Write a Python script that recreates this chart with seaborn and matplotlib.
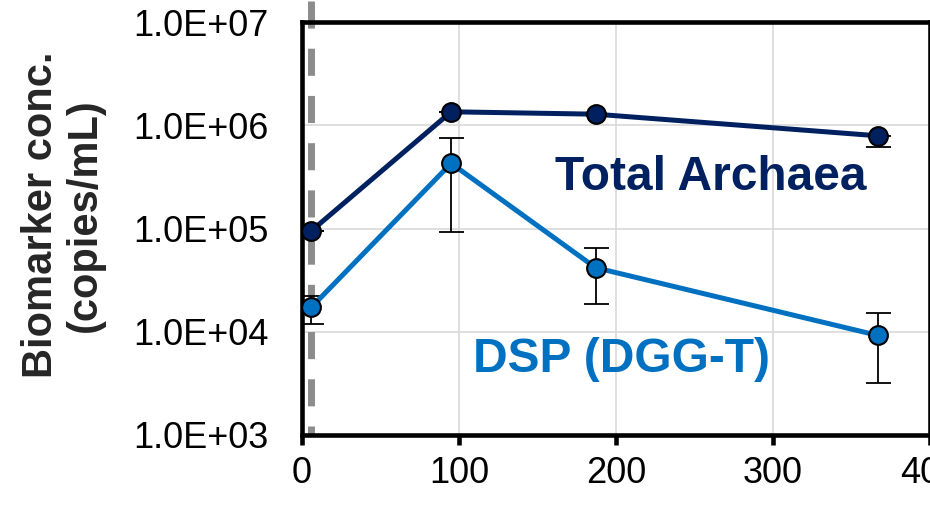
import numpy as np
import pandas as pd
import seaborn as sns
import matplotlib.pyplot as plt
from matplotlib.ticker import FuncFormatter, FixedLocator

# Data
days = [6, 95, 187, 367]
archaea = [9.5e4, 1.35e6, 1.28e6, 7.9e5]
archaea_lo = [9.5e4, 1.35e6, 1.28e6, 6.1e5]
archaea_hi = [9.5e4, 1.35e6, 1.28e6, 7.9e5]
dsp = [1.73e4, 4.28e5, 4.17e4, 9.2e3]
dsp_lo = [1.19e4, 9.2e4, 1.86e4, 3.21e3]
dsp_hi = [2.23e4, 7.57e5, 6.5e4, 1.51e4]
series_names = ["Total Archaea", "DSP (DGG-T)"]
series_colors = ["#002060", "#0070C0"]
marker_day = 6
y_ticks = [1e3, 1e4, 1e5, 1e6, 1e7]
x_ticks = [0, 100, 200, 300, 400]

sns.set_style("white")
plt.rcParams['font.family'] = ['Liberation Sans', 'DejaVu Sans']

df = pd.DataFrame({
    "day": days * 2,
    "conc": archaea + dsp,
    "series": [series_names[0]] * len(days) + [series_names[1]] * len(days),
})

fig = plt.figure(figsize=(9.3, 5.05), dpi=100)
ax = fig.add_axes([302 / 930, 70 / 505, 628 / 930, 413 / 505])

# error bars sit behind the markers
for vals, lo, hi in [(archaea, archaea_lo, archaea_hi), (dsp, dsp_lo, dsp_hi)]:
    vals = np.array(vals)
    yerr = [vals - np.array(lo), np.array(hi) - vals]
    ax.errorbar(days, vals, yerr=yerr, fmt="none", ecolor="black",
                elinewidth=1.3, capsize=9, capthick=1.3, zorder=2)

sns.lineplot(data=df, x="day", y="conc", hue="series", palette=series_colors,
             marker="o", markersize=13.5, markeredgecolor="black",
             markeredgewidth=1.5, linewidth=3.6, legend=False, ax=ax,
             zorder=3)

# sampling-start marker line, runs above the plot area
ax.plot([marker_day, marker_day], [1.6e7, 1e3], color="#8C8C8C", lw=5,
        dashes=(3.9, 2.9), clip_on=False, zorder=1.8)

ax.set_yscale("log")
ax.set_ylim(1e3, 1e7)
ax.set_xlim(0, 400)
ax.yaxis.set_major_locator(FixedLocator(y_ticks))
ax.yaxis.set_minor_locator(FixedLocator([]))
ax.yaxis.set_major_formatter(FuncFormatter(lambda v, p: f"{v:.1E}"))
ax.set_xticks(x_ticks)

ax.grid(True, color="#D9D9D9", linewidth=1.2)
ax.set_axisbelow(True)
for s in ax.spines.values():
    s.set_color("black")
    s.set_linewidth(3.3)

ax.tick_params(axis="x", direction="out", length=7, width=3.3, labelsize=26,
               pad=8, colors="black", bottom=True)
ax.tick_params(axis="y", length=0, labelsize=26, pad=24, colors="black")
ax.set_xlabel("")
ax.set_ylabel("")

fig.text(63 / 930, 1 - 215 / 505, "Biomarker conc.\n(copies/mL)", rotation=90,
         ha="center", va="center", multialignment="center", fontsize=30,
         fontweight="bold", linespacing=1.1)

ax.text(161, 2.36e5, series_names[0], color=series_colors[0], fontsize=34.5,
        fontweight="bold", ha="left", va="baseline")
ax.text(109, 4.07e3, series_names[1], color=series_colors[1], fontsize=34.5,
        fontweight="bold", ha="left", va="baseline")

fig.savefig("out.png", dpi=100)
